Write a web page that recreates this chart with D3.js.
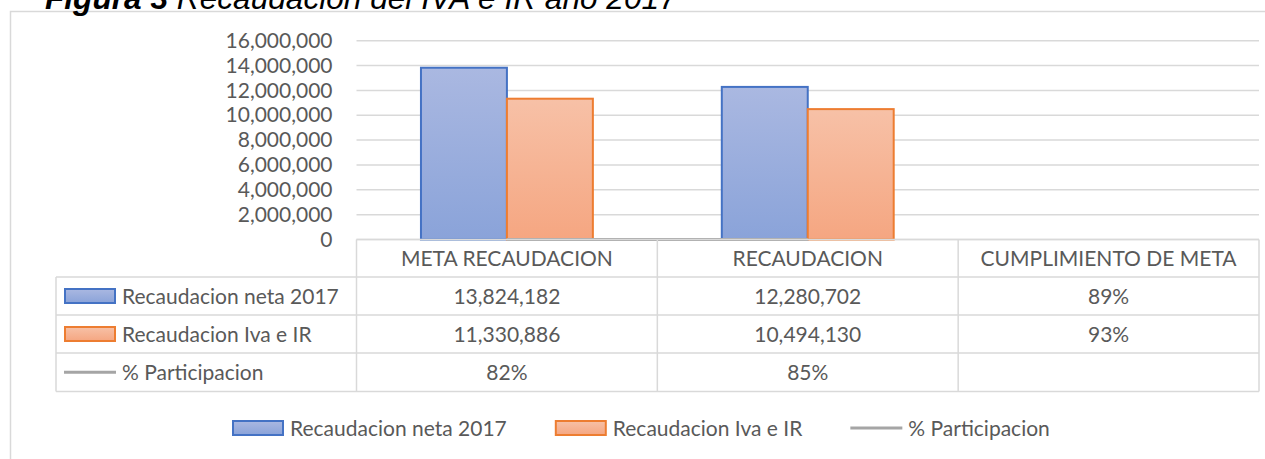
<!DOCTYPE html>
<html>
<head>
<meta charset="utf-8">
<script src="https://cdn.jsdelivr.net/npm/d3@7"></script>
<style>
  body { margin: 0; background: #fff; }
  text { font-family: Lato, "Open Sans", sans-serif; fill: #595959; }
</style>
</head>
<body>
<div id="chart"></div>
<script>
// data
var categories = ["META RECAUDACION", "RECAUDACION", "CUMPLIMIENTO DE META"];
var seriesNames = ["Recaudacion neta 2017", "Recaudacion Iva e IR", "% Participacion"];
var recaudacionNeta = [13824182, 12280702, 0.89];
var recaudacionIvaIr = [11330886, 10494130, 0.93];
var participacion = [0.82, 0.85, null];
var yTicks = [0, 2000000, 4000000, 6000000, 8000000, 10000000, 12000000, 14000000, 16000000];

var width = 1265, height = 459;
var plot = {left: 356.5, right: 1259, top: 40.7, bottom: 239.5};
var rowEdges = [239.5, 277, 315, 353, 391.5];
var tableLeft = 56;

var svg = d3.select("#chart")
  .append("svg")
    .attr("width", width)
    .attr("height", height);

// gradients for the bars
var defs = svg.append("defs");
function grad(id, top, bottom) {
  var g = defs.append("linearGradient").attr("id", id)
    .attr("x1", 0).attr("y1", 0).attr("x2", 0).attr("y2", 1);
  g.append("stop").attr("offset", "0%").attr("stop-color", top);
  g.append("stop").attr("offset", "100%").attr("stop-color", bottom);
}
grad("gBlue", "#aab8e1", "#8aa3d9");
grad("gOrange", "#f7c1a7", "#f5a681");
var fills = ["url(#gBlue)", "url(#gOrange)"];
var strokes = ["#4472c4", "#ed7d31"];

// chart frame
svg.append("path")
  .attr("d", "M10.5," + (height + 5) + "V11.5H" + (width + 5))
  .attr("fill", "none")
  .attr("stroke", "#d9d9d9")
  .attr("stroke-width", 1.5);

// title, cut by the top edge like in the source document
var title = svg.append("text")
  .attr("x", 45)
  .attr("y", 9)
  .style("font-family", "'Liberation Sans', Arial, sans-serif")
  .style("font-size", "32px")
  .style("font-style", "italic")
  .style("fill", "#000");
title.append("tspan").style("font-weight", "bold").text("Figura 3");
title.append("tspan").text(" Recaudacion del IVA e IR año 2017");
var tw = title.node().getComputedTextLength();
title.style("font-size", (32 * 632 / tw) + "px");

var x = d3.scaleBand()
  .domain(categories)
  .range([plot.left, plot.right]);

var xSeries = d3.scaleBand()
  .domain([0, 1])
  .range([0, x.bandwidth()])
  .paddingOuter(0.75);

var y = d3.scaleLinear()
  .domain([0, 16000000])
  .range([plot.bottom, plot.top]);

// gridlines
svg.append("g")
  .selectAll("line")
  .data(yTicks)
  .enter()
  .append("line")
    .attr("x1", plot.left)
    .attr("x2", plot.right)
    .attr("y1", function(d) { return y(d); })
    .attr("y2", function(d) { return y(d); })
    .attr("stroke", "#d9d9d9")
    .attr("stroke-width", 1.5);

// y axis labels
var yAxis = svg.append("g")
  .attr("transform", "translate(" + (plot.left - 8) + ",0)")
  .call(d3.axisLeft(y).tickValues(yTicks).tickSize(0).tickPadding(16).tickFormat(d3.format(",d")));
yAxis.select(".domain").remove();
yAxis.selectAll("text")
  .style("font-family", "Lato, sans-serif")
  .style("font-size", "21px")
  .attr("fill", "#595959");

// bars
var barData = [];
[recaudacionNeta, recaudacionIvaIr].forEach(function(vals, s) {
  vals.forEach(function(v, i) { barData.push({cat: categories[i], s: s, v: v}); });
});

svg.append("g")
  .selectAll("rect")
  .data(barData.filter(function(d) { return y(0) - y(d.v) > 1; }))
  .enter()
  .append("rect")
    .attr("x", function(d) { return x(d.cat) + xSeries(d.s); })
    .attr("y", function(d) { return y(d.v); })
    .attr("width", xSeries.bandwidth())
    .attr("height", function(d) { return y(0) - y(d.v); })
    .attr("fill", function(d) { return fills[d.s]; })
    .attr("stroke", function(d) { return strokes[d.s]; })
    .attr("stroke-width", 2);

// % participacion line (on the same axis, so it lies on zero)
var lineData = participacion.map(function(v, i) { return {cat: categories[i], v: v}; })
  .filter(function(d) { return d.v != null; });
svg.append("path")
  .datum(lineData)
  .attr("fill", "none")
  .attr("stroke", "#a5a5a5")
  .attr("stroke-width", 3)
  .attr("d", d3.line()
    .x(function(d) { return x(d.cat) + x.bandwidth() / 2; })
    .y(function(d) { return y(d.v); }));

// data table
var table = svg.append("g");
var border = "#d9d9d9";
function hline(x1, x2, yy) {
  table.append("line").attr("x1", x1).attr("x2", x2).attr("y1", yy).attr("y2", yy)
    .attr("stroke", border).attr("stroke-width", 1.5);
}
function vline(xx, y1, y2) {
  table.append("line").attr("x1", xx).attr("x2", xx).attr("y1", y1).attr("y2", y2)
    .attr("stroke", border).attr("stroke-width", 1.5);
}
hline(plot.left, plot.right, rowEdges[0]);
rowEdges.slice(1).forEach(function(r) { hline(tableLeft, plot.right, r); });
vline(tableLeft, rowEdges[1], rowEdges[4]);
vline(plot.left, rowEdges[0], rowEdges[4]);
categories.forEach(function(c) { vline(x(c) + x.bandwidth(), rowEdges[0], rowEdges[4]); });

function mid(i) { return (rowEdges[i] + rowEdges[i + 1]) / 2; }
var fs = 21;

table.selectAll(".head")
  .data(categories)
  .enter()
  .append("text")
    .attr("x", function(d) { return x(d) + x.bandwidth() / 2; })
    .attr("y", mid(0) + fs * 0.36)
    .attr("text-anchor", "middle")
    .style("font-size", fs + "px")
    .text(function(d) { return d; });

var fmt = function(v) {
  if (v == null) return "";
  return v < 1.5 ? d3.format(".0%")(v) : d3.format(",d")(v);
};
var rows = [recaudacionNeta, recaudacionIvaIr, participacion];
rows.forEach(function(vals, r) {
  table.selectAll(".r" + r)
    .data(vals)
    .enter()
    .append("text")
      .attr("x", function(d, i) { return x(categories[i]) + x.bandwidth() / 2; })
      .attr("y", mid(r + 1) + fs * 0.36)
      .attr("text-anchor", "middle")
      .style("font-size", fs + "px")
      .text(fmt);
});

// legend keys
function drawKey(g, s, kx, ky) {
  if (s < 2) {
    g.append("rect")
      .attr("x", kx + 1).attr("y", ky - 7)
      .attr("width", 50).attr("height", 14)
      .attr("fill", fills[s]).attr("stroke", strokes[s]).attr("stroke-width", 2);
  } else {
    g.append("line")
      .attr("x1", kx).attr("x2", kx + 52).attr("y1", ky).attr("y2", ky)
      .attr("stroke", "#a5a5a5").attr("stroke-width", 3);
  }
}

seriesNames.forEach(function(name, s) {
  var cy = mid(s + 1);
  drawKey(table, s, 64, cy);
  table.append("text")
    .attr("x", 122)
    .attr("y", cy + fs * 0.36)
    .style("font-size", fs + "px")
    .text(name);
});

// bottom legend
var legend = svg.append("g");
var lx = 232, ly = 428;
seriesNames.forEach(function(name, s) {
  drawKey(legend, s, lx, ly);
  var t = legend.append("text")
    .attr("x", lx + 58)
    .attr("y", ly + fs * 0.36)
    .style("font-size", fs + "px")
    .text(name);
  lx += 58 + t.node().getComputedTextLength() + 48;
});
</script>
</body>
</html>
